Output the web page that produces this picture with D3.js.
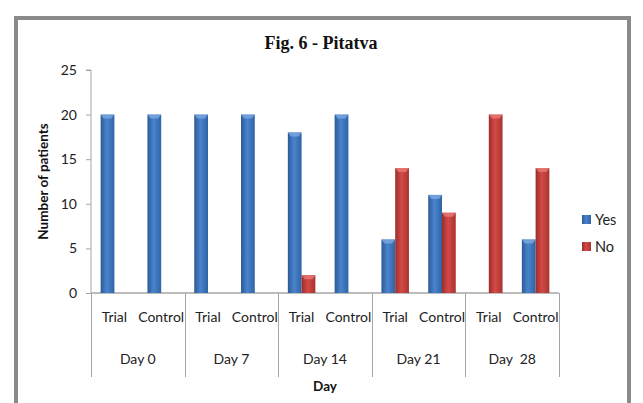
<!DOCTYPE html>
<html><head><meta charset="utf-8">
<script src="https://cdn.jsdelivr.net/npm/d3@7/dist/d3.min.js"></script>
<style>body{margin:0;background:#fff}svg{display:block}</style>
</head><body><svg id="c" width="643" height="403"></svg>
<script>
const days = ["Day 0", "Day 7", "Day 14", "Day 21", "Day  28"];
const groups = ["Trial", "Control"];
const seriesNames = ["Yes", "No"];
const yesValues = [20, 20, 20, 20, 18, 20, 6, 11, 0, 6];
const noValues  = [0, 0, 0, 0, 2, 0, 14, 9, 20, 14];
const yTicks = [0, 5, 10, 15, 20, 25];
const colors = {Yes: ["#2b5a98", "#4a84cc", "#2f63a6"], No: ["#9a2d2b", "#d44a47", "#a83330"]};

const svg = d3.select("#c");
const defs = svg.append("defs");
seriesNames.forEach(s => {
  const g = defs.append("linearGradient").attr("id", "g" + s).attr("x1", 0).attr("x2", 1).attr("y1", 0).attr("y2", 0);
  g.append("stop").attr("offset", "0%").attr("stop-color", colors[s][0]);
  g.append("stop").attr("offset", "45%").attr("stop-color", colors[s][1]);
  g.append("stop").attr("offset", "100%").attr("stop-color", colors[s][2]);
});

// outer frame
svg.append("rect").attr("x", 16).attr("y", 18).attr("width", 613).attr("height", 400)
  .attr("fill", "#fff").attr("stroke", "#8a8a8a").attr("stroke-width", 4);

const pLeft = 91, pRight = 559, pTop = 70, pBottom = 293;
const cats = [];
days.forEach(d => groups.forEach(g => cats.push(d + "|" + g)));
const x0 = d3.scaleBand().domain(days).range([pLeft, pRight]);
const x1 = d3.scaleBand().domain(groups).range([0, x0.bandwidth()]);
const xs = d3.scaleBand().domain(seriesNames).range([0, x1.bandwidth()]).paddingInner(0).paddingOuter(0.7);
const y = d3.scaleLinear().domain([0, 25]).range([pBottom, pTop]);
const font = "Lato, 'Open Sans', sans-serif";

// y axis
const ya = svg.append("g").attr("transform", `translate(${pLeft},0)`)
  .call(d3.axisLeft(y).tickValues(yTicks).tickSize(5).tickPadding(9));
ya.select(".domain").attr("stroke", "#a6a6a6").attr("d", `M-5,${pTop}H0V${pBottom}`);
ya.selectAll(".tick line").attr("stroke", "#a6a6a6");
ya.selectAll(".tick text").attr("font-family", font).attr("font-size", 14).attr("fill", "#222");

// category axis
svg.append("line").attr("x1", pLeft).attr("x2", pRight).attr("y1", pBottom).attr("y2", pBottom).attr("stroke", "#a6a6a6").attr("stroke-width", 1.5);
const bounds = days.map(d => x0(d)).concat([pRight]);
svg.append("g").selectAll("line").data(bounds).join("line")
  .attr("x1", d => Math.round(d) + 0.5).attr("x2", d => Math.round(d) + 0.5)
  .attr("y1", pBottom).attr("y2", 377).attr("stroke", "#a6a6a6");

// bars
const data = [];
cats.forEach((c, i) => {
  const [d, g] = c.split("|");
  data.push({d, g, s: "Yes", v: yesValues[i]});
  data.push({d, g, s: "No", v: noValues[i]});
});
const bars = svg.append("g").selectAll("g").data(data.filter(e => e.v > 0)).join("g")
  .attr("transform", e => `translate(${x0(e.d) + x1(e.g) + xs(e.s)},0)`);
bars.append("rect").attr("x", 0).attr("y", e => y(e.v)).attr("width", xs.bandwidth()).attr("height", e => pBottom - y(e.v))
  .attr("fill", e => "url(#g" + e.s + ")");
bars.append("path").attr("d", e => {
  const w = xs.bandwidth(), t = y(e.v);
  return `M0,${t}H${w}L${w - 3},${t + 4}H3Z`;
}).attr("fill", e => e.s === "Yes" ? "#7aa8e0" : "#e87a77").attr("opacity", 0.8);

// category labels
svg.append("g").selectAll("text").data(cats).join("text")
  .attr("x", c => { const [d, g] = c.split("|"); return x0(d) + x1(g) + x1.bandwidth() / 2; })
  .attr("y", 322).attr("text-anchor", "middle").attr("font-family", font).attr("font-size", 14).attr("fill", "#222")
  .text(c => c.split("|")[1]);
svg.append("g").selectAll("text").data(days).join("text")
  .attr("x", d => x0(d) + x0.bandwidth() / 2).attr("y", 364).attr("text-anchor", "middle")
  .attr("font-family", font).attr("font-size", 14).attr("fill", "#222").style("white-space", "pre")
  .text(d => d);

// titles
svg.append("text").attr("x", 321).attr("y", 49).attr("text-anchor", "middle")
  .attr("font-family", "'Liberation Serif', serif").attr("font-weight", "bold").attr("font-size", 18).attr("fill", "#111")
  .text("Fig. 6 - Pitatva");
svg.append("text").attr("x", (pLeft + pRight) / 2).attr("y", 391).attr("text-anchor", "middle")
  .attr("font-family", font).attr("font-weight", "bold").attr("font-size", 13.5).attr("fill", "#111").text("Day");
svg.append("text").attr("transform", `translate(48,${(pTop + pBottom) / 2}) rotate(-90)`).attr("text-anchor", "middle")
  .attr("font-family", font).attr("font-weight", "bold").attr("font-size", 13.5).attr("fill", "#111").text("Number of patients");

// legend
const lg = svg.append("g").selectAll("g").data(seriesNames).join("g")
  .attr("transform", (s, i) => `translate(582,${215 + i * 27})`);
lg.append("rect").attr("width", 9).attr("height", 9).attr("fill", s => "url(#g" + s + ")");
lg.append("text").attr("x", 13).attr("y", 10).attr("font-family", font).attr("font-size", 14.5).attr("fill", "#222").text(s => s);
</script></body></html>
